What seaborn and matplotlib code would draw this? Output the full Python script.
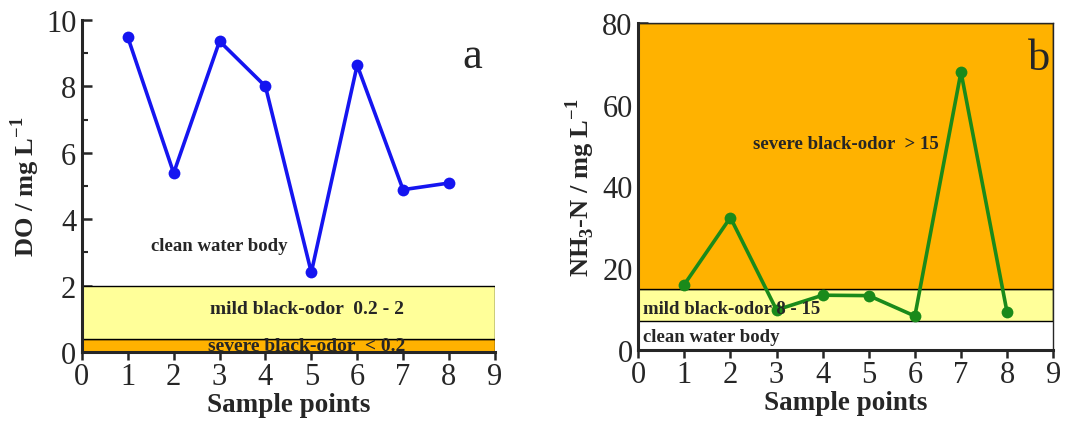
import pandas as pd
import seaborn as sns
import matplotlib.pyplot as plt
from matplotlib.patches import Rectangle
from matplotlib.ticker import MultipleLocator

# values
sample_points = [1, 2, 3, 4, 5, 6, 7, 8]
do_values = [9.48, 5.39, 9.36, 8.0, 2.4, 8.64, 4.89, 5.09]
nh3_values = [16.0, 32.4, 9.8, 13.4, 13.3, 8.3, 68.0, 9.2]

# classification bands: (low, high, colour)
do_bands = [(0.0, 0.4, "#FFB200"), (0.4, 2.0, "#FFFF99")]
nh3_bands = [(7.0, 15.0, "#FFFF99"), (15.0, 80.0, "#FFB200")]

sns.set_style("ticks")
plt.rcParams["font.family"] = ["Liberation Serif", "DejaVu Serif"]
plt.rcParams["mathtext.fontset"] = "custom"
plt.rcParams["mathtext.rm"] = "Liberation Serif"
plt.rcParams["mathtext.bf"] = "Liberation Serif:bold"

df = pd.DataFrame({"point": sample_points, "DO": do_values, "NH3": nh3_values})

fig = plt.figure(figsize=(10.78, 4.27), dpi=100)
ax1 = fig.add_axes([0.076, 0.173, 0.383, 0.778])
ax2 = fig.add_axes([0.592, 0.178, 0.385, 0.766])


def style_axes(ax, ymax, ymajor, yminor):
    ax.set_xlim(0, 9)
    ax.set_ylim(0, ymax)
    ax.xaxis.set_major_locator(MultipleLocator(1))
    ax.yaxis.set_major_locator(MultipleLocator(ymajor))
    ax.yaxis.set_minor_locator(MultipleLocator(yminor))
    ax.tick_params(axis="x", direction="out", length=6, width=1.8, labelsize=22, pad=1)
    ax.tick_params(axis="y", which="major", direction="in", length=7, width=1.8, labelsize=22, pad=4)
    ax.tick_params(axis="y", which="minor", direction="in", length=4, width=1.5)
    for s in ["left", "bottom"]:
        ax.spines[s].set_linewidth(2.2)
    ax.set_xlabel("Sample points", fontsize=19.5, fontweight="bold", labelpad=1)


# panel a
for lo, hi, c in do_bands:
    ax1.add_patch(Rectangle((0, lo), 9, hi - lo, facecolor=c, edgecolor="black", lw=1.0, zorder=1))
sns.lineplot(data=df, x="point", y="DO", marker="o", color="#1515F0", lw=2.6,
             markersize=8.5, markeredgewidth=0, ax=ax1, zorder=3)
style_axes(ax1, 10, 2, 1)
ax1.spines["top"].set_visible(False)
ax1.spines["right"].set_visible(False)
ax1.set_ylabel(r"DO / mg L$^{\mathbf{-1}}$", fontsize=19, fontweight="bold", labelpad=3)
ax1.text(3.0, 3.2, "clean water body", fontsize=13.5, fontweight="bold", ha="center", va="center")
ax1.text(4.9, 1.3, "mild black-odor  0.2 - 2", fontsize=14, fontweight="bold", ha="center", va="center")
ax1.text(4.9, 0.2, "severe black-odor  < 0.2", fontsize=14, fontweight="bold", ha="center", va="center")
ax1.text(8.5, 8.9, "a", fontsize=32, ha="center", va="center")

# panel b
for lo, hi, c in nh3_bands:
    ax2.add_patch(Rectangle((0, lo), 9, hi - lo, facecolor=c, edgecolor="black", lw=1.0, zorder=1))
sns.lineplot(data=df, x="point", y="NH3", marker="o", color="#1A8A1A", lw=2.6,
             markersize=8.5, markeredgewidth=0, ax=ax2, zorder=3)
style_axes(ax2, 80, 20, 10)
ax2.spines["top"].set_linewidth(1.0)
ax2.spines["right"].set_linewidth(1.0)
ax2.set_ylabel(r"NH$_\mathbf{3}$-N / mg L$^{\mathbf{-1}}$", fontsize=19, fontweight="bold", labelpad=4)
ax2.text(0.1, 3.2, "clean water body", fontsize=13.5, fontweight="bold", ha="left", va="center")
ax2.text(0.1, 10.2, "mild black-odor 8 - 15", fontsize=13.5, fontweight="bold", ha="left", va="center")
ax2.text(4.5, 50.5, "severe black-odor  > 15", fontsize=13.5, fontweight="bold", ha="center", va="center")
ax2.text(8.7, 71.5, "b", fontsize=32, ha="center", va="center")

fig.savefig("out.png", dpi=100)
plt.close(fig)
